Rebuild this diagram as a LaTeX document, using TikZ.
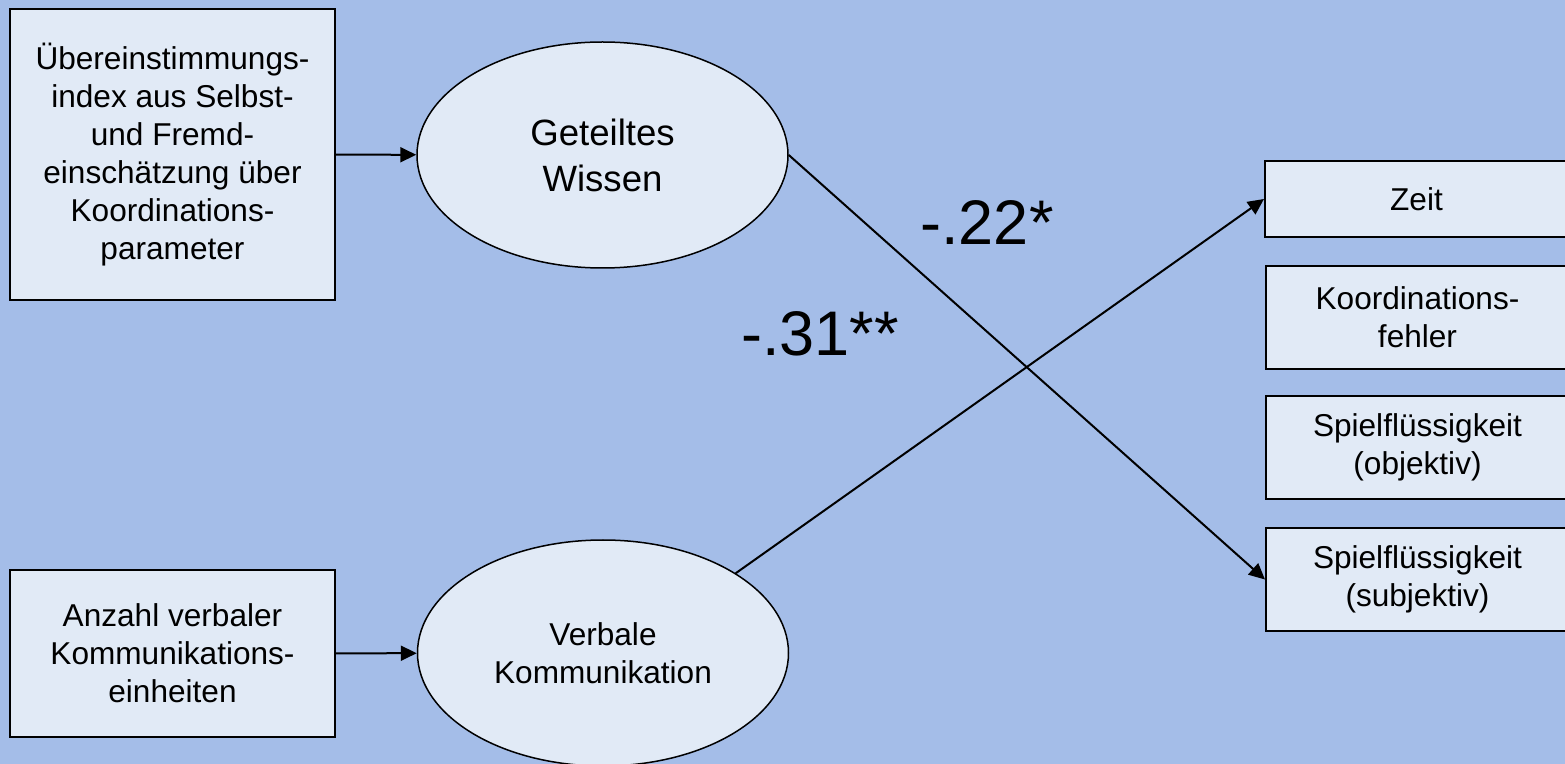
\documentclass[tikz,border=0pt]{standalone}
\usepackage{fontspec}
\setmainfont{Liberation Sans}
\usetikzlibrary{arrows.meta,shapes.geometric}
\definecolor{bgblue}{RGB}{164,189,232}
\definecolor{boxfill}{RGB}{225,234,246}
\tikzset{
  measure/.style={draw,line width=1pt,fill=boxfill,align=center,inner sep=0pt,
    font=\fontsize{15.8}{19}\selectfont},
  outcome/.style={measure,minimum width=151.5pt,minimum height=51.5pt},
  latent/.style={ellipse,draw,line width=0.75pt,fill=boxfill,align=center,inner sep=0pt,
    minimum width=185.5pt,minimum height=113pt,font=\fontsize{15.8}{19}\selectfont},
  effect/.style={-{Triangle[length=8pt,width=7.5pt]},line width=1pt},
  coef/.style={font=\fontsize{31.5}{36}\selectfont,inner sep=0pt,anchor=base}
}
\begin{document}
\begin{tikzpicture}[x=0.5pt,y=-0.5pt]
\fill[bgblue] (0,0) rectangle (1565,764);
\clip (0,0) rectangle (1565,764);
%indicators
\node[measure,minimum width=162.5pt,minimum height=145.5pt] (konsens) at (172.5,154.5)
    {Übereinstimmungs-\\index aus Selbst-\\und Fremd-\\einschätzung über\\Koordinations-\\parameter};
\node[measure,minimum width=162.5pt,minimum height=83.5pt] (anzahl) at (172.5,653.5)
    {Anzahl verbaler\\Kommunikations-\\einheiten};
%latent variables
\node[latent,font=\fontsize{18.3}{23}\selectfont] (wissen) at (602.5,155) {Geteiltes\\Wissen};
\node[latent] (verbal) at (603,653) {Verbale\\Kommunikation};
%outcomes
\node[outcome,minimum height=38pt] (zeit) at (1416.5,199) {Zeit};
\node[outcome] (fehler) at (1417.5,317.5) {Koordinations-\\fehler};
\node[outcome] (objektiv) at (1417.5,447.5) {Spielflüssigkeit\\(objektiv)};
\node[outcome] (subjektiv) at (1417.5,579.5) {Spielflüssigkeit\\(subjektiv)};
%paths
\draw[effect] (konsens) -- (wissen);
\draw[effect] (anzahl) -- (verbal);
\draw[effect] (wissen.east) -- (subjektiv.west);
\draw[effect] (verbal.31) -- (zeit.west);
%labels
\node[coef] (bwissen) at (987,245) {-.22*};
\node[coef] (bverbal) at (820,356) {-.31**};
\end{tikzpicture}
\end{document}
